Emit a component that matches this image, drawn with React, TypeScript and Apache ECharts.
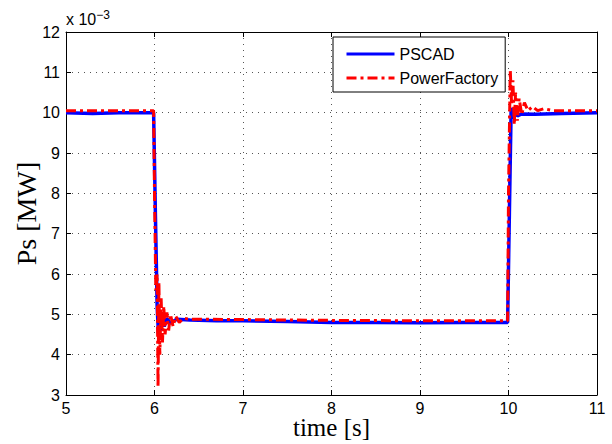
import React, { useEffect, useRef } from "react";
import * as echarts from "echarts";

const xTicks = [5, 6, 7, 8, 9, 10, 11];
const yTicks = [3, 4, 5, 6, 7, 8, 9, 10, 11, 12];

const pscadT = [5.0, 5.3, 5.6, 5.99, 6.01, 6.03, 6.045, 6.055, 6.07, 6.09, 6.11, 6.14, 6.18, 6.25, 6.4, 6.7, 7.0, 7.5, 8.0, 8.5, 9.0, 9.5, 9.99, 10.01, 10.03, 10.05, 10.07, 10.1, 10.15, 10.3, 10.6, 11.0];
const pscadV = [10.0, 9.98, 10.0, 10.0, 7.5, 5.2, 4.5, 5.0, 4.6, 4.95, 4.7, 4.9, 4.78, 4.88, 4.86, 4.84, 4.84, 4.82, 4.8, 4.8, 4.79, 4.8, 4.8, 7.5, 10.12, 9.85, 10.05, 9.92, 9.97, 9.96, 9.98, 10.0];

const pfT = [5.0, 5.99, 6.0, 6.015, 6.03, 6.04, 6.05, 6.06, 6.075, 6.09, 6.105, 6.12, 6.14, 6.16, 6.18, 6.21, 6.24, 6.28, 6.33, 6.4, 6.5, 7.0, 8.0, 9.0, 9.99, 10.0, 10.02, 10.035, 10.05, 10.065, 10.08, 10.1, 10.12, 10.15, 10.18, 10.22, 10.27, 10.33, 10.4, 10.5, 11.0];
const pfV = [10.05, 10.05, 8.0, 5.6, 6.0, 3.2, 5.8, 4.0, 5.4, 4.3, 5.2, 4.5, 5.05, 4.6, 5.0, 4.7, 4.95, 4.8, 4.9, 4.88, 4.88, 4.87, 4.85, 4.84, 4.84, 8.0, 11.05, 10.2, 10.8, 9.7, 10.5, 9.8, 10.35, 9.95, 10.25, 10.05, 10.15, 10.05, 10.1, 10.05, 10.05];

export default function App() {
  const ref = useRef<HTMLDivElement>(null);
  useEffect(() => {
    if (!ref.current) return;
    const chart = echarts.init(ref.current, undefined, { renderer: "svg" });
    const labelFont = "'Liberation Sans', Arial, sans-serif";
    const serif = "'Liberation Serif', 'Times New Roman', serif";
    const tickCommon = { show: true, inside: true, length: 5, lineStyle: { color: "#000", width: 1 } };
    const axisLine = { show: true, lineStyle: { color: "#000", width: 1 } };
    const split = { show: true, lineStyle: { color: "#555", width: 1, type: [1, 5] as any } };
    chart.setOption({
      animation: false,
      backgroundColor: "#fff",
      grid: { left: 66, right: 15, top: 32, bottom: 49, containLabel: false, outerBoundsMode: "none" },
      xAxis: [
        {
          type: "value", min: xTicks[0], max: xTicks[xTicks.length - 1], interval: 1,
          axisLine, axisTick: tickCommon, splitLine: split,
          axisLabel: { color: "#000", fontSize: 16, fontFamily: labelFont, margin: 5 },
          name: "time [s]", nameLocation: "middle", nameGap: 20, nameMoveOverlap: false,
          nameTextStyle: { color: "#000", fontSize: 25, fontFamily: serif },
        },
        {
          type: "value", position: "top", min: xTicks[0], max: xTicks[xTicks.length - 1], interval: 1,
          axisLine, axisTick: tickCommon, splitLine: { show: false }, axisLabel: { show: false },
        },
      ],
      yAxis: [
        {
          type: "value", min: yTicks[0], max: yTicks[yTicks.length - 1], interval: 1,
          axisLine, axisTick: tickCommon, splitLine: split,
          axisLabel: { color: "#000", fontSize: 16, fontFamily: labelFont, margin: 6 },
          name: "Ps [MW]", nameLocation: "middle", nameGap: 26, nameRotate: 90, nameMoveOverlap: false,
          nameTextStyle: { color: "#000", fontSize: 28, fontFamily: serif },
        },
        {
          type: "value", position: "right", min: yTicks[0], max: yTicks[yTicks.length - 1], interval: 1,
          axisLine, axisTick: tickCommon, splitLine: { show: false }, axisLabel: { show: false },
        },
      ],
      legend: {
        left: 333, top: 37, orient: "vertical",
        backgroundColor: "#fff", borderColor: "#000", borderWidth: 1, borderRadius: 0,
        padding: [9, 7, 6, 12], itemWidth: 48, itemHeight: 14, itemGap: 8,
        itemStyle: { opacity: 0 },
        lineStyle: { width: 3 },
        textStyle: { color: "#000", fontSize: 16, fontFamily: labelFont },
        data: ["PSCAD", "PowerFactory"],
      },
      graphic: [
        {
          type: "text", left: 66, top: 9,
          style: {
            text: "x 10{sup|−3}", fill: "#000", font: `16px ${labelFont}`,
            rich: { sup: { fontSize: 12, fontFamily: labelFont, verticalAlign: "top", padding: [0, 0, 9, 0] } },
          },
        },
      ],
      series: [
        {
          name: "PSCAD", type: "line", symbol: "none",
          data: pscadT.map((t, i) => [t, pscadV[i]]),
          lineStyle: { color: "#0000ff", width: 3.5 }, itemStyle: { color: "#0000ff" },
        },
        {
          name: "PowerFactory", type: "line", symbol: "none",
          data: pfT.map((t, i) => [t, pfV[i]]),
          lineStyle: { color: "#ff0000", width: 3, type: [10, 4, 3, 4] as any }, itemStyle: { color: "#ff0000" },
        },
      ],
    });
    return () => chart.dispose();
  }, []);
  return <div ref={ref} style={{ position: "fixed", left: 0, top: 0, width: 612, height: 444 }} />;
}
